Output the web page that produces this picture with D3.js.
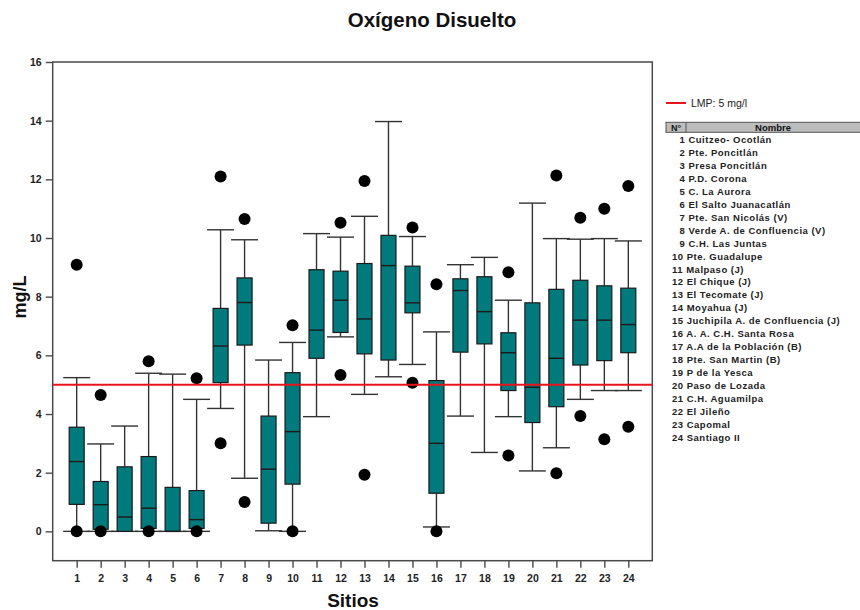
<!DOCTYPE html>
<html>
<head>
<meta charset="utf-8">
<script src="https://cdn.jsdelivr.net/npm/d3@7"></script>
<style>
  html, body { margin: 0; padding: 0; background: #fff; }
  svg { display: block; font-family: "Liberation Sans", Arial, sans-serif; }
</style>
</head>
<body>
<svg id="chart" width="860" height="610"></svg>
<script>
// Dissolved oxygen (mg/L) by sampling site: box-plot summaries
const sites = d3.range(1, 25);
const siteNames = [
  "Cuitzeo- Ocotlán", "Pte. Poncitlán", "Presa Poncitlán", "P.D. Corona",
  "C. La Aurora", "El Salto Juanacatlán", "Pte. San Nicolás (V)",
  "Verde A. de Confluencia (V)", "C.H. Las Juntas", "Pte. Guadalupe",
  "Malpaso (J)", "El Chique  (J)", "El Tecomate  (J)", "Moyahua  (J)",
  "Juchipila A. de Confluencia (J)", "A. A. C.H. Santa Rosa",
  "A.A de la Población (B)", "Pte. San Martin (B)", "P de la Yesca",
  "Paso de Lozada", "C.H. Aguamilpa", "El Jileño", "Capomal", "Santiago II"
];
const whiskerLow  = [0, 0, 0, 0, 0, 0, 4.19, 1.81, 0.02, 0, 3.91, 6.63, 4.67, 5.27, 5.69, 0.15, 3.93, 2.69, 3.91, 2.06, 2.85, 4.50, 4.80, 4.80];
const q1          = [0.92, 0.07, 0, 0.1, 0, 0.1, 5.07, 6.35, 0.28, 1.61, 5.90, 6.78, 6.05, 5.84, 7.45, 1.30, 6.11, 6.39, 4.80, 3.71, 4.25, 5.67, 5.82, 6.09];
const median      = [2.38, 0.91, 0.49, 0.79, 0, 0.40, 6.32, 7.80, 2.12, 3.40, 6.86, 7.88, 7.24, 9.06, 7.79, 3.00, 8.21, 7.49, 6.09, 4.91, 5.90, 7.20, 7.20, 7.05];
const q3          = [3.55, 1.70, 2.20, 2.55, 1.50, 1.39, 7.60, 8.64, 3.93, 5.41, 8.92, 8.87, 9.13, 10.09, 9.04, 5.14, 8.61, 8.68, 6.77, 7.79, 8.25, 8.56, 8.37, 8.29];
const whiskerHigh = [5.24, 2.98, 3.59, 5.39, 5.36, 4.50, 10.28, 9.94, 5.84, 6.44, 10.15, 10.03, 10.74, 13.97, 10.05, 6.80, 9.09, 9.34, 7.88, 11.19, 9.98, 9.96, 9.98, 9.90];
const outliers    = [[9.09, 0], [4.65, 0], [], [5.80, 0], [], [5.22, 0], [12.10, 3.0], [10.65, 1.0],
                     [], [7.03, 0], [], [10.52, 5.33], [11.94, 1.93], [], [10.36, 5.07], [8.42, 0],
                     [], [], [8.83, 2.59], [], [12.13, 1.98], [10.69, 3.93], [11.0, 3.14], [11.77, 3.57]];
const yTicks = [0, 2, 4, 6, 8, 10, 12, 14, 16];
const limitValue = 5;
const limitLabel = "LMP: 5 mg/l";

const svg = d3.select("#chart");
const plot = { left: 52.7, right: 652.3, top: 62, bottom: 560.7 };

const x = d3.scaleLinear().domain([0, 25]).range([plot.left, plot.right]);
const y = d3.scaleLinear().domain([-1, 16]).range([plot.bottom, plot.top]);

const frameColor = "#4a4a4a";
const boxFill = "#007a7c";
const boxW = 15, capW = 27;

// title and axis titles
svg.append("text").attr("x", 432).attr("y", 27).attr("text-anchor", "middle")
  .attr("font-size", 20.5).attr("font-weight", "bold").attr("fill", "#111").text("Oxígeno Disuelto");
svg.append("text").attr("transform", "translate(26,297) rotate(-90)").attr("text-anchor", "middle")
  .attr("font-size", 18).attr("font-weight", "bold").attr("fill", "#111").text("mg/L");
svg.append("text").attr("x", 353).attr("y", 607).attr("text-anchor", "middle")
  .attr("font-size", 19).attr("font-weight", "bold").attr("fill", "#111").text("Sitios");

// frame
svg.append("rect").attr("x", plot.left).attr("y", plot.top)
  .attr("width", plot.right - plot.left).attr("height", plot.bottom - plot.top)
  .attr("fill", "none").attr("stroke", frameColor).attr("stroke-width", 1.5);

// axes
const yAxis = d3.axisLeft(y).tickValues(yTicks).tickSize(7).tickPadding(4).tickFormat(d3.format("d"));
const gy = svg.append("g").attr("transform", `translate(${plot.left},0)`).call(yAxis);
const xAxis = d3.axisBottom(x).tickValues(sites).tickSize(7).tickPadding(7).tickFormat(d3.format("d"));
const gx = svg.append("g").attr("transform", `translate(0,${plot.bottom})`).call(xAxis);
[gy, gx].forEach(g => {
  g.select(".domain").remove();
  g.selectAll(".tick line").attr("stroke", frameColor).attr("stroke-width", 1.4);
  g.selectAll(".tick text").attr("font-size", 10.5).attr("font-weight", "bold")
    .attr("fill", "#222").attr("font-family", "'Liberation Sans', Arial, sans-serif");
});

// box plots
const stats = sites.map((s, i) => ({
  site: s, lo: whiskerLow[i], q1: q1[i], med: median[i], q3: q3[i], hi: whiskerHigh[i], out: outliers[i]
}));
const boxes = svg.append("g").selectAll("g").data(stats).join("g");
const whiskerStroke = "#333";

boxes.append("line").attr("x1", d => x(d.site)).attr("x2", d => x(d.site))
  .attr("y1", d => y(d.lo)).attr("y2", d => y(d.q1))
  .attr("stroke", whiskerStroke).attr("stroke-width", 1.4);
boxes.append("line").attr("x1", d => x(d.site)).attr("x2", d => x(d.site))
  .attr("y1", d => y(d.q3)).attr("y2", d => y(d.hi))
  .attr("stroke", whiskerStroke).attr("stroke-width", 1.4);
boxes.append("line").attr("x1", d => x(d.site) - capW / 2).attr("x2", d => x(d.site) + capW / 2)
  .attr("y1", d => y(d.lo)).attr("y2", d => y(d.lo))
  .attr("stroke", whiskerStroke).attr("stroke-width", 1.4);
boxes.append("line").attr("x1", d => x(d.site) - capW / 2).attr("x2", d => x(d.site) + capW / 2)
  .attr("y1", d => y(d.hi)).attr("y2", d => y(d.hi))
  .attr("stroke", whiskerStroke).attr("stroke-width", 1.4);
boxes.append("rect").attr("x", d => x(d.site) - boxW / 2).attr("width", boxW)
  .attr("y", d => y(d.q3)).attr("height", d => y(d.q1) - y(d.q3))
  .attr("fill", boxFill).attr("stroke", "#1a1a1a").attr("stroke-width", 1.2);
boxes.append("line").attr("x1", d => x(d.site) - boxW / 2).attr("x2", d => x(d.site) + boxW / 2)
  .attr("y1", d => y(d.med)).attr("y2", d => y(d.med))
  .attr("stroke", "#1a1a1a").attr("stroke-width", 1.4);
boxes.selectAll("circle").data(d => d.out.map(v => ({ site: d.site, v }))).join("circle")
  .attr("cx", d => x(d.site)).attr("cy", d => y(d.v)).attr("r", 6).attr("fill", "#000");

// limit line
svg.append("line").attr("x1", plot.left).attr("x2", plot.right)
  .attr("y1", y(limitValue)).attr("y2", y(limitValue))
  .attr("stroke", "#e8141b").attr("stroke-width", 2);

// legend
svg.append("line").attr("x1", 666).attr("x2", 686).attr("y1", 103).attr("y2", 103)
  .attr("stroke", "#e8141b").attr("stroke-width", 2);
svg.append("text").attr("x", 691).attr("y", 107).attr("font-size", 10.5).attr("fill", "#222").text(limitLabel);

// site name table
const table = svg.append("g");
table.append("rect").attr("x", 666).attr("y", 122.3).attr("width", 200).attr("height", 10)
  .attr("fill", "#bdbdbd").attr("stroke", "#555").attr("stroke-width", 1);
table.append("line").attr("x1", 686).attr("x2", 686).attr("y1", 122.3).attr("y2", 132.3)
  .attr("stroke", "#555").attr("stroke-width", 1);
table.append("text").attr("x", 676).attr("y", 130.5).attr("text-anchor", "middle")
  .attr("font-size", 9).attr("font-weight", "bold").attr("fill", "#111").text("N°");
table.append("text").attr("x", 773).attr("y", 130.5).attr("text-anchor", "middle")
  .attr("font-size", 9.5).attr("font-weight", "bold").attr("fill", "#111").text("Nombre");
table.selectAll("text.row").data(sites).join("text").attr("class", "row")
  .attr("x", d => d < 10 ? 679.5 : 672)
  .attr("y", (d, i) => 142.8 + i * 12.97)
  .attr("font-size", 9.5).attr("font-weight", "bold").attr("letter-spacing", 0.5)
  .attr("fill", "#222")
  .text((d, i) => `${d} ${siteNames[i]}`);
</script>
</body>
</html>
